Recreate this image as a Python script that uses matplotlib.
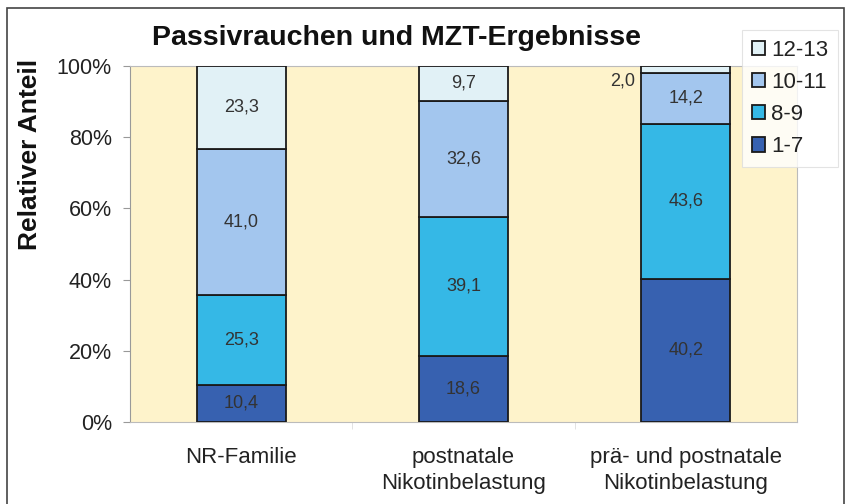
import matplotlib
matplotlib.use("Agg")
import matplotlib.pyplot as plt
from matplotlib.patches import Rectangle
import numpy as np

plt.rcParams['font.family'] = ['Liberation Sans', 'DejaVu Sans']

categories = ["NR-Familie", "postnatale\nNikotinbelastung", "prä- und postnatale\nNikotinbelastung"]
series_names = ["1-7", "8-9", "10-11", "12-13"]
v_1_7 = [10.4, 18.6, 40.2]
v_8_9 = [25.3, 39.1, 43.6]
v_10_11 = [41.0, 32.6, 14.2]
v_12_13 = [23.3, 9.7, 2.0]
yticks = [0, 20, 40, 60, 80, 100]
ytick_labels = ["0%", "20%", "40%", "60%", "80%", "100%"]

series = [v_1_7, v_8_9, v_10_11, v_12_13]
colors = ["#3761B0", "#35B8E6", "#A3C6EE", "#E1F1F6"]

fig = plt.figure(figsize=(8.51, 5.04), dpi=100)
fig.patch.set_facecolor("white")
ax = fig.add_axes([130/851, (504-422)/504, (797-130)/851, (422-66)/504])
ax.set_facecolor("#FEF3CB")

x = np.arange(len(categories))
bottom = np.zeros(len(categories))
handles = []
for name, vals, col in zip(series_names, series, colors):
    b = ax.bar(x, vals, width=0.4, bottom=bottom, color=col, edgecolor="#1a1a1a", linewidth=1.3, label=name, zorder=3)
    handles.append(b)
    for i, v in enumerate(vals):
        lbl = f"{v:.1f}".replace(".", ",")
        if v < 5:
            ax.text(x[i] - 0.23, bottom[i] + v / 2 - 3.2, lbl, ha="right", va="center", fontsize=13, color="#333333", zorder=4)
        else:
            ax.text(x[i], bottom[i] + v / 2, lbl, ha="center", va="center", fontsize=13, color="#333333", zorder=4)
    bottom += np.array(vals)

ax.set_xlim(-0.5, 2.5)
ax.set_ylim(0, 100)
ax.set_yticks(yticks)
ax.set_yticklabels(ytick_labels, fontsize=15.5, color="#222222")
ax.set_xticks(x)
ax.set_xticklabels(categories, fontsize=16, linespacing=1.3, color="#222222")
ax.tick_params(axis="x", length=0, pad=18)
ax.tick_params(axis="y", length=5, color="#999999", pad=8)
ax.set_xticks([0.5, 1.5], minor=True)
ax.tick_params(axis="x", which="minor", length=5, color="#dddddd")
for s in ["top", "right"]:
    ax.spines[s].set_color("#bbbbbb")
    ax.spines[s].set_linewidth(0.8)
ax.spines["left"].set_color("#999999")
ax.spines["bottom"].set_color("#bbbbbb")

fig.text(30/851, 1 - 154/504, "Relativer Anteil", rotation=90, ha="center", va="center",
         fontsize=19, fontweight="bold", color="#111111")

fig.text(396/851, 1 - 38/504, "Passivrauchen und MZT-Ergebnisse", ha="center", va="center",
         fontsize=20.5, fontweight="bold", color="#111111")

leg = fig.legend(handles[::-1], series_names[::-1], loc="upper left",
                 bbox_to_anchor=(742/851, 1 - 30/504), fontsize=16, frameon=True,
                 fancybox=False, edgecolor="#dddddd", handlelength=0.6, handleheight=0.6,
                 handletextpad=0.25, labelspacing=0.5, borderpad=0.45, borderaxespad=0)
leg.get_frame().set_linewidth(0.8)
for t in leg.get_texts():
    t.set_color("#222222")

fig.add_artist(Rectangle((7/851, -0.05), (844-7)/851, 1 - 8/504 + 0.05, transform=fig.transFigure,
                         fill=False, edgecolor="#444444", linewidth=1.2))

fig.savefig("out.png", dpi=100)
